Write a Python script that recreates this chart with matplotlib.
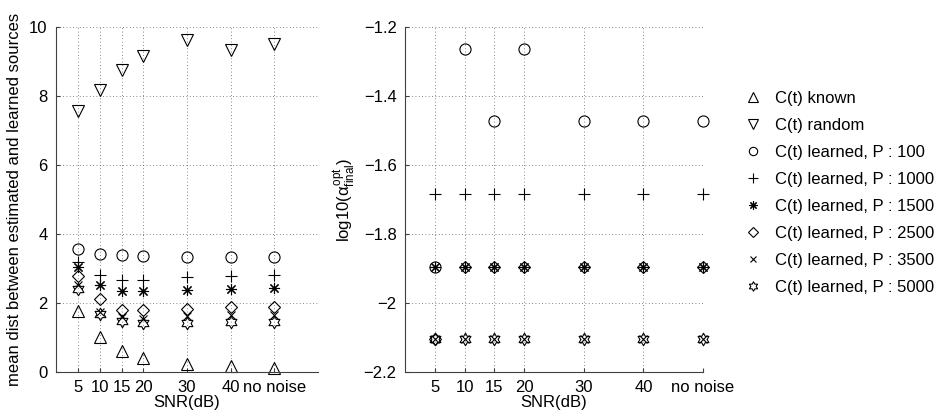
import matplotlib
matplotlib.use("Agg")
import matplotlib.pyplot as plt
import numpy as np
from matplotlib.path import Path

plt.rcParams['font.family'] = ['Liberation Sans', 'DejaVu Sans']
plt.rcParams['mathtext.fontset'] = 'custom'
plt.rcParams['mathtext.rm'] = 'Liberation Sans'
plt.rcParams['mathtext.it'] = 'Liberation Sans'
plt.rcParams['mathtext.bf'] = 'Liberation Sans:bold'

snr_pos = [5, 10, 15, 20, 30, 40, 50]
snr_labels = ['5', '10', '15', '20', '30', '40', 'no noise']
series_names = ['C(t) known', 'C(t) random', 'C(t) learned, P : 100', 'C(t) learned, P : 1000',
                'C(t) learned, P : 1500', 'C(t) learned, P : 2500', 'C(t) learned, P : 3500',
                'C(t) learned, P : 5000']

# left panel: mean distance
dist_known = [1.77, 1.01, 0.62, 0.42, 0.23, 0.18, 0.13]
dist_random = [7.56, 8.16, 8.74, 9.15, 9.61, 9.32, 9.52]
dist_p100 = [3.57, 3.43, 3.38, 3.35, 3.33, 3.33, 3.33]
dist_p1000 = [3.19, 2.80, 2.68, 2.68, 2.75, 2.77, 2.80]
dist_p1500 = [3.04, 2.51, 2.34, 2.34, 2.37, 2.41, 2.44]
dist_p2500 = [2.77, 2.12, 1.81, 1.79, 1.84, 1.88, 1.88]
dist_p3500 = [2.51, 1.74, 1.58, 1.55, 1.61, 1.64, 1.64]
dist_p5000 = [2.42, 1.68, 1.48, 1.42, 1.43, 1.45, 1.45]

# right panel: log10(alpha_final^opt) (learned only)
alpha_p100 = [-1.896, -1.263, -1.473, -1.263, -1.473, -1.473, -1.473]
alpha_p1000 = [-1.683, -1.683, -1.683, -1.683, -1.683, -1.683, -1.683]
alpha_p1500 = [-1.896, -1.896, -1.896, -1.896, -1.896, -1.896, -1.896]
alpha_p2500 = [-2.105, -1.896, -1.896, -1.896, -1.896, -1.896, -1.896]
alpha_p3500 = [-2.105, -2.105, -2.105, -2.105, -2.105, -2.105, -2.105]
alpha_p5000 = [-2.105, -2.105, -2.105, -2.105, -2.105, -2.105, -2.105]

# hexagram marker (6-point star outline)
ang = np.pi / 2 + np.arange(12) * np.pi / 6
rad = np.where(np.arange(12) % 2 == 0, 1.0, 1.0 / np.sqrt(3))
verts = np.column_stack([rad * np.cos(ang), rad * np.sin(ang)])
verts = np.vstack([verts, verts[0]])
codes = [Path.MOVETO] + [Path.LINETO] * 11 + [Path.CLOSEPOLY]
hexagram = Path(verts, codes)

markers = ['^', 'v', 'o', '+', (8, 2, 0), 'D', 'x', hexagram]
msizes = [9, 9, 8, 9, 8, 6.5, 6, 9]

fig = plt.figure(figsize=(9.51, 4.19), dpi=100)
W, H = 951, 419
ax1 = fig.add_axes([56 / W, 1 - 372 / H, (318 - 56) / W, (372 - 27) / H])
ax2 = fig.add_axes([405 / W, 1 - 372 / H, (703 - 405) / W, (372 - 27) / H])

left_data = [dist_known, dist_random, dist_p100, dist_p1000, dist_p1500, dist_p2500, dist_p3500, dist_p5000]
right_data = [None, None, alpha_p100, alpha_p1000, alpha_p1500, alpha_p2500, alpha_p3500, alpha_p5000]

FS = 12
handles = []
for i, name in enumerate(series_names):
    h, = ax1.plot(snr_pos, left_data[i], linestyle='none', marker=markers[i], ms=msizes[i],
                  mfc='none', mec='black', mew=0.8, color='black', label=name, clip_on=False)
    handles.append(h)
    if right_data[i] is not None:
        ax2.plot(snr_pos, right_data[i], linestyle='none', marker=markers[i], ms=msizes[i],
                 mfc='none', mec='black', mew=0.8, color='black', clip_on=False)

for ax in (ax1, ax2):
    ax.set_xticks(snr_pos)
    ax.set_xticklabels(snr_labels)
    ax.spines['top'].set_visible(False)
    ax.spines['right'].set_visible(False)
    ax.spines['left'].set_color('#404040')
    ax.spines['bottom'].set_color('#404040')
    ax.tick_params(direction='in', length=3, labelsize=FS, color='#404040', pad=6)
    ax.grid(True, linestyle=(0, (1, 3)), color='#606060', linewidth=0.6)
    ax.set_xlabel('SNR(dB)', fontsize=FS, labelpad=0)

ax1.set_xlim(0, 60)
ax1.set_ylim(0, 10)
ax1.set_yticks([0, 2, 4, 6, 8, 10])
ax1.set_yticklabels(['0', '2', '4', '6', '8', '10'])
ax1.set_ylabel('mean dist between estimated and learned sources', fontsize=FS, labelpad=5)

ax2.set_xlim(0, 50)
ax2.set_ylim(-2.2, -1.2)
ax2.set_yticks([-2.2, -2.0, -1.8, -1.6, -1.4, -1.2])
ax2.set_yticklabels(['\u22122.2', '\u22122', '\u22121.8', '\u22121.6', '\u22121.4', '\u22121.2'])
ax2.set_ylabel(r'log10($\alpha^{\rm opt}_{\rm final}$)', fontsize=FS, labelpad=5)

fig.legend(handles=handles, loc='upper left', bbox_to_anchor=(743 / W, 1 - 91 / H),
           frameon=False, fontsize=FS, handlelength=1.15, handletextpad=0.75,
           labelspacing=0.72, markerscale=0.75, borderpad=0, borderaxespad=0)

fig.savefig('out.png', dpi=100)
